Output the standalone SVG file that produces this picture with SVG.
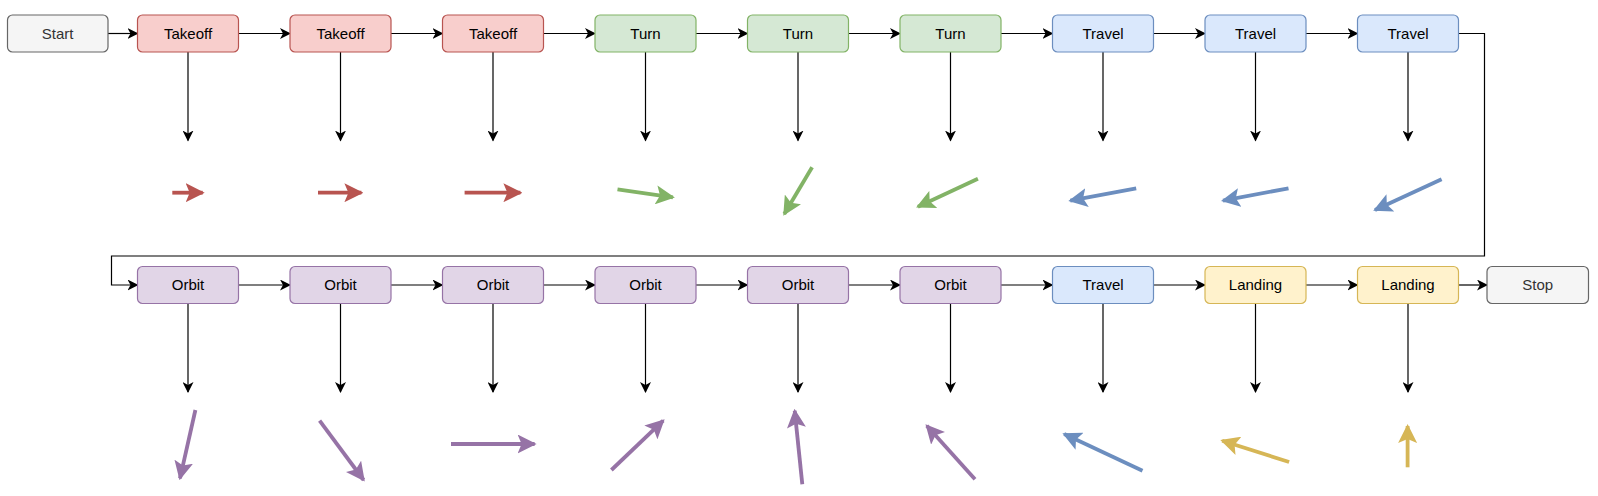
<svg xmlns="http://www.w3.org/2000/svg" width="1598" height="496" viewBox="0 0 1598 496">
<style>
.box{stroke-width:1.2}
.gray{fill:#f5f5f5;stroke:#666666}
.red{fill:#f8cecc;stroke:#b85450}
.green{fill:#d5e8d4;stroke:#82b366}
.blue{fill:#dae8fc;stroke:#6c8ebf}
.purple{fill:#e1d5e7;stroke:#9673a6}
.yellow{fill:#fff2cc;stroke:#d6b656}
text{font-family:"Liberation Sans",Arial,sans-serif;font-size:15px;text-anchor:middle;fill:#000}
text.g{fill:#333333}
.conn{fill:none;stroke:#000;stroke-width:1.2}
.dir{fill:none;stroke-width:3.8}
.dr{stroke:#b85450}.dg{stroke:#82b366}.db{stroke:#6c8ebf}.dp{stroke:#9673a6}.dy{stroke:#d6b656}
</style>
<defs>
<marker id="ah" markerUnits="userSpaceOnUse" viewBox="0 0 11 11" refX="10" refY="5.5" markerWidth="11" markerHeight="11" orient="auto"><path d="M0,0 L11,5.5 L0,11 L3,5.5 Z" fill="#000"/></marker>
<marker id="mr" markerUnits="userSpaceOnUse" viewBox="0 0 19 19" refX="17" refY="9.5" markerWidth="19" markerHeight="19" orient="auto"><path d="M0,0 L19,9.5 L0,19 L4,9.5 Z" fill="#b85450"/></marker>
<marker id="mg" markerUnits="userSpaceOnUse" viewBox="0 0 19 19" refX="17" refY="9.5" markerWidth="19" markerHeight="19" orient="auto"><path d="M0,0 L19,9.5 L0,19 L4,9.5 Z" fill="#82b366"/></marker>
<marker id="mb" markerUnits="userSpaceOnUse" viewBox="0 0 19 19" refX="17" refY="9.5" markerWidth="19" markerHeight="19" orient="auto"><path d="M0,0 L19,9.5 L0,19 L4,9.5 Z" fill="#6c8ebf"/></marker>
<marker id="mp" markerUnits="userSpaceOnUse" viewBox="0 0 19 19" refX="17" refY="9.5" markerWidth="19" markerHeight="19" orient="auto"><path d="M0,0 L19,9.5 L0,19 L4,9.5 Z" fill="#9673a6"/></marker>
<marker id="my" markerUnits="userSpaceOnUse" viewBox="0 0 19 19" refX="17" refY="9.5" markerWidth="19" markerHeight="19" orient="auto"><path d="M0,0 L19,9.5 L0,19 L4,9.5 Z" fill="#d6b656"/></marker>
</defs>

<g id="connectors">
<path class="conn" marker-end="url(#ah)" d="M108,33.5 H137.5"/>
<path class="conn" marker-end="url(#ah)" d="M238.5,33.5 H290"/>
<path class="conn" marker-end="url(#ah)" d="M391,33.5 H442.5"/>
<path class="conn" marker-end="url(#ah)" d="M543.5,33.5 H595"/>
<path class="conn" marker-end="url(#ah)" d="M696,33.5 H747.5"/>
<path class="conn" marker-end="url(#ah)" d="M848.5,33.5 H900"/>
<path class="conn" marker-end="url(#ah)" d="M1001,33.5 H1052.5"/>
<path class="conn" marker-end="url(#ah)" d="M1153.5,33.5 H1205"/>
<path class="conn" marker-end="url(#ah)" d="M1306,33.5 H1357.5"/>
<path class="conn" marker-end="url(#ah)" d="M1458.5,33.5 H1484.5 V256 H111.5 V285 H137.5"/>
<path class="conn" marker-end="url(#ah)" d="M238.5,285 H290"/>
<path class="conn" marker-end="url(#ah)" d="M391,285 H442.5"/>
<path class="conn" marker-end="url(#ah)" d="M543.5,285 H595"/>
<path class="conn" marker-end="url(#ah)" d="M696,285 H747.5"/>
<path class="conn" marker-end="url(#ah)" d="M848.5,285 H900"/>
<path class="conn" marker-end="url(#ah)" d="M1001,285 H1052.5"/>
<path class="conn" marker-end="url(#ah)" d="M1153.5,285 H1205"/>
<path class="conn" marker-end="url(#ah)" d="M1306,285 H1357.5"/>
<path class="conn" marker-end="url(#ah)" d="M1458.5,285 H1487"/>
<path class="conn" marker-end="url(#ah)" d="M188,52 V140.5"/>
<path class="conn" marker-end="url(#ah)" d="M340.5,52 V140.5"/>
<path class="conn" marker-end="url(#ah)" d="M493,52 V140.5"/>
<path class="conn" marker-end="url(#ah)" d="M645.5,52 V140.5"/>
<path class="conn" marker-end="url(#ah)" d="M798,52 V140.5"/>
<path class="conn" marker-end="url(#ah)" d="M950.5,52 V140.5"/>
<path class="conn" marker-end="url(#ah)" d="M1103,52 V140.5"/>
<path class="conn" marker-end="url(#ah)" d="M1255.5,52 V140.5"/>
<path class="conn" marker-end="url(#ah)" d="M1408,52 V140.5"/>
<path class="conn" marker-end="url(#ah)" d="M188,303.5 V392"/>
<path class="conn" marker-end="url(#ah)" d="M340.5,303.5 V392"/>
<path class="conn" marker-end="url(#ah)" d="M493,303.5 V392"/>
<path class="conn" marker-end="url(#ah)" d="M645.5,303.5 V392"/>
<path class="conn" marker-end="url(#ah)" d="M798,303.5 V392"/>
<path class="conn" marker-end="url(#ah)" d="M950.5,303.5 V392"/>
<path class="conn" marker-end="url(#ah)" d="M1103,303.5 V392"/>
<path class="conn" marker-end="url(#ah)" d="M1255.5,303.5 V392"/>
<path class="conn" marker-end="url(#ah)" d="M1408,303.5 V392"/>
</g>

<g id="directions">
<line class="dir dr" marker-end="url(#mr)" x1="172.3" y1="192.7" x2="202.7" y2="192.7"/>
<line class="dir dr" marker-end="url(#mr)" x1="318" y1="192.7" x2="361.4" y2="192.7"/>
<line class="dir dr" marker-end="url(#mr)" x1="464.6" y1="192.7" x2="520.4" y2="192.7"/>
<line class="dir dg" marker-end="url(#mg)" x1="617.5" y1="189.3" x2="672.9" y2="197.3"/>
<line class="dir dg" marker-end="url(#mg)" x1="812.1" y1="167.3" x2="784.3" y2="214"/>
<line class="dir dg" marker-end="url(#mg)" x1="977.9" y1="178.7" x2="917.9" y2="206.7"/>
<line class="dir db" marker-end="url(#mb)" x1="1136.2" y1="188.3" x2="1070.3" y2="200.7"/>
<line class="dir db" marker-end="url(#mb)" x1="1288.5" y1="188.3" x2="1223" y2="200.7"/>
<line class="dir db" marker-end="url(#mb)" x1="1441.6" y1="179.3" x2="1375" y2="210"/>
<line class="dir dp" marker-end="url(#mp)" x1="195.4" y1="410" x2="180" y2="478.3"/>
<line class="dir dp" marker-end="url(#mp)" x1="319.6" y1="420.7" x2="363.6" y2="480"/>
<line class="dir dp" marker-end="url(#mp)" x1="451" y1="444" x2="534.6" y2="444"/>
<line class="dir dp" marker-end="url(#mp)" x1="611.4" y1="470" x2="663.2" y2="420.7"/>
<line class="dir dp" marker-end="url(#mp)" x1="802.3" y1="484.3" x2="794.7" y2="410.7"/>
<line class="dir dp" marker-end="url(#mp)" x1="975" y1="479.3" x2="926.8" y2="425.7"/>
<line class="dir db" marker-end="url(#mb)" x1="1142.5" y1="470.7" x2="1064.2" y2="434"/>
<line class="dir dy" marker-end="url(#my)" x1="1289.1" y1="462" x2="1222.2" y2="440.7"/>
<line class="dir dy" marker-end="url(#my)" x1="1407.6" y1="467.3" x2="1407.6" y2="426"/>
</g>

<g id="start"><rect class="box gray" x="7.5" y="15" width="100.5" height="37" rx="5"/><text class="g" x="57.7" y="38.8">Start</text></g>
<g id="takeoff1"><rect class="box red" x="137.5" y="15" width="101" height="37" rx="5"/><text x="188" y="38.8">Takeoff</text></g>
<g id="takeoff2"><rect class="box red" x="290" y="15" width="101" height="37" rx="5"/><text x="340.5" y="38.8">Takeoff</text></g>
<g id="takeoff3"><rect class="box red" x="442.5" y="15" width="101" height="37" rx="5"/><text x="493" y="38.8">Takeoff</text></g>
<g id="turn1"><rect class="box green" x="595" y="15" width="101" height="37" rx="5"/><text x="645.5" y="38.8">Turn</text></g>
<g id="turn2"><rect class="box green" x="747.5" y="15" width="101" height="37" rx="5"/><text x="798" y="38.8">Turn</text></g>
<g id="turn3"><rect class="box green" x="900" y="15" width="101" height="37" rx="5"/><text x="950.5" y="38.8">Turn</text></g>
<g id="travel1"><rect class="box blue" x="1052.5" y="15" width="101" height="37" rx="5"/><text x="1103" y="38.8">Travel</text></g>
<g id="travel2"><rect class="box blue" x="1205" y="15" width="101" height="37" rx="5"/><text x="1255.5" y="38.8">Travel</text></g>
<g id="travel3"><rect class="box blue" x="1357.5" y="15" width="101" height="37" rx="5"/><text x="1408" y="38.8">Travel</text></g>

<g id="orbit1"><rect class="box purple" x="137.5" y="266.5" width="101" height="37" rx="5"/><text x="188" y="290.3">Orbit</text></g>
<g id="orbit2"><rect class="box purple" x="290" y="266.5" width="101" height="37" rx="5"/><text x="340.5" y="290.3">Orbit</text></g>
<g id="orbit3"><rect class="box purple" x="442.5" y="266.5" width="101" height="37" rx="5"/><text x="493" y="290.3">Orbit</text></g>
<g id="orbit4"><rect class="box purple" x="595" y="266.5" width="101" height="37" rx="5"/><text x="645.5" y="290.3">Orbit</text></g>
<g id="orbit5"><rect class="box purple" x="747.5" y="266.5" width="101" height="37" rx="5"/><text x="798" y="290.3">Orbit</text></g>
<g id="orbit6"><rect class="box purple" x="900" y="266.5" width="101" height="37" rx="5"/><text x="950.5" y="290.3">Orbit</text></g>
<g id="travel4"><rect class="box blue" x="1052.5" y="266.5" width="101" height="37" rx="5"/><text x="1103" y="290.3">Travel</text></g>
<g id="landing1"><rect class="box yellow" x="1205" y="266.5" width="101" height="37" rx="5"/><text x="1255.5" y="290.3">Landing</text></g>
<g id="landing2"><rect class="box yellow" x="1357.5" y="266.5" width="101" height="37" rx="5"/><text x="1408" y="290.3">Landing</text></g>
<g id="stop"><rect class="box gray" x="1487" y="266.5" width="101.5" height="37" rx="5"/><text class="g" x="1537.7" y="290.3">Stop</text></g>
</svg>
